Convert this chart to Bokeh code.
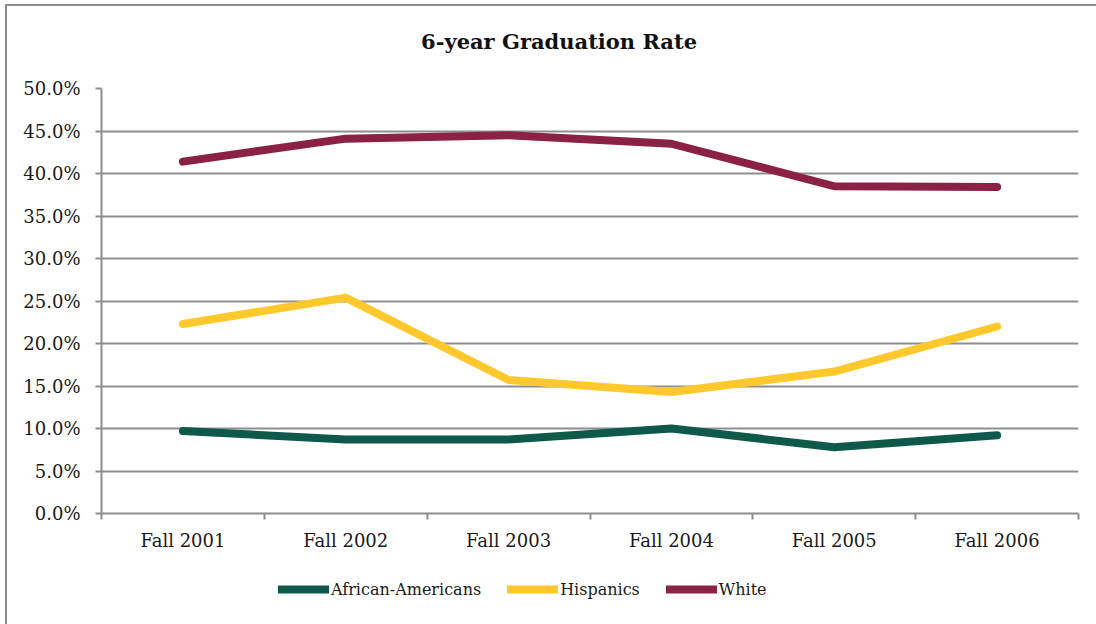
from bokeh.plotting import figure
from bokeh.layouts import column
from bokeh.models import (Range1d, FixedTicker, NumeralTickFormatter, Legend, LegendItem,
                          ColumnDataSource, Label)
from bokeh.embed import file_html
from bokeh.resources import INLINE

years = ["Fall 2001", "Fall 2002", "Fall 2003", "Fall 2004", "Fall 2005", "Fall 2006"]
african_americans = [0.097, 0.087, 0.087, 0.100, 0.078, 0.092]
hispanics = [0.223, 0.254, 0.157, 0.143, 0.167, 0.220]
white = [0.414, 0.441, 0.445, 0.435, 0.385, 0.384]
y_ticks = [0.0, 0.05, 0.10, 0.15, 0.20, 0.25, 0.30, 0.35, 0.40, 0.45, 0.50]

chart_title = "6-year Graduation Rate"
series_names = ["African-Americans", "Hispanics", "White"]
series_colors = ["#0e594a", "#ffc92e", "#8b2145"]
series_values = [african_americans, hispanics, white]

FONT = "DejaVu Serif"
GRID = "#8e8e8e"
W = 1089

xs = [i + 0.5 for i in range(len(years))]

# title strip
top = figure(width=W, height=60, output_backend="svg", toolbar_location=None,
             x_range=Range1d(0, W), y_range=Range1d(0, 60),
             x_axis_location=None, y_axis_location=None,
             min_border_left=0, min_border_right=0, min_border_top=0, min_border_bottom=0)
top.grid.grid_line_color = None
top.outline_line_color = None
top.border_fill_color = "white"
top.background_fill_color = "white"
top.add_layout(Label(x=510, y=25, text=chart_title, text_align="center",
                     text_baseline="middle", text_font=FONT, text_font_size="21px",
                     text_font_style="bold", text_color="#111111"))

# main chart
p = figure(width=W, height=494, output_backend="svg", toolbar_location=None,
           x_range=Range1d(0, len(years)), y_range=Range1d(0, 0.5),
           min_border_left=94, min_border_right=18, min_border_top=22, min_border_bottom=47)
p.outline_line_color = None
p.background_fill_color = "white"
p.border_fill_color = "white"

# x axis: labels at centers, tick marks at category boundaries
p.xaxis.ticker = FixedTicker(ticks=xs, minor_ticks=list(range(len(years) + 1)))
p.xaxis.major_label_overrides = {x: y for x, y in zip(xs, years)}
p.xaxis.major_tick_out = 0
p.xaxis.major_tick_in = 0
p.xaxis.minor_tick_out = 6
p.xaxis.minor_tick_in = 0
p.xaxis.minor_tick_line_color = GRID
p.xaxis.minor_tick_line_width = 2
p.xaxis.axis_line_color = GRID
p.xaxis.axis_line_width = 2
p.xaxis.major_label_standoff = 10
p.xaxis.major_label_text_font = FONT
p.xaxis.major_label_text_font_size = "18px"
p.xaxis.major_label_text_color = "#1a1a1a"
p.xgrid.grid_line_color = None

# y axis
p.yaxis.ticker = FixedTicker(ticks=y_ticks)
p.yaxis.formatter = NumeralTickFormatter(format="0.0%")
p.yaxis.major_tick_out = 6
p.yaxis.major_tick_in = 0
p.yaxis.minor_tick_line_color = None
p.yaxis.major_tick_line_color = GRID
p.yaxis.major_tick_line_width = 2
p.yaxis.axis_line_color = GRID
p.yaxis.axis_line_width = 2
p.yaxis.major_label_standoff = 15
p.yaxis.major_label_text_font = FONT
p.yaxis.major_label_text_font_size = "18px"
p.yaxis.major_label_text_color = "#1a1a1a"
p.ygrid.grid_line_color = GRID
p.ygrid.grid_line_width = 2

for name, vals, col in zip(series_names, series_values, series_colors):
    src = ColumnDataSource(dict(x=xs, y=vals))
    p.line("x", "y", source=src, line_color=col, line_width=8,
           line_cap="round", line_join="round")

# legend strip below the chart (its lines lie outside its own view; only the legend shows)
lg = figure(width=W, height=64, output_backend="svg", toolbar_location=None,
            x_range=Range1d(0, len(years)), y_range=Range1d(10, 11),
            x_axis_location=None, y_axis_location=None,
            min_border_left=0, min_border_right=0, min_border_top=0, min_border_bottom=0)
lg.grid.grid_line_color = None
lg.outline_line_color = None
lg.border_fill_color = "white"
lg.background_fill_color = "white"

items = []
for name, vals, col in zip(series_names, series_values, series_colors):
    r = lg.line(x=xs, y=vals, line_color=col, line_width=8, line_cap="round")
    items.append(LegendItem(label=name, renderers=[r]))

legend = Legend(items=items, orientation="horizontal", location=(177, 25),
                label_text_font=FONT, label_text_font_size="16px", label_text_color="#1a1a1a",
                glyph_width=51, glyph_height=20, label_standoff=2, spacing=26,
                border_line_color=None, background_fill_alpha=0, padding=4, margin=0)
lg.add_layout(legend)

layout = column(top, p, lg, spacing=0)
layout.styles = {"margin-left": "5px", "margin-top": "4px",
                 "border-left": "2px solid #8c8c8c", "border-top": "2px solid #8c8c8c"}

open("out.html", "w").write(file_html(layout, INLINE))
